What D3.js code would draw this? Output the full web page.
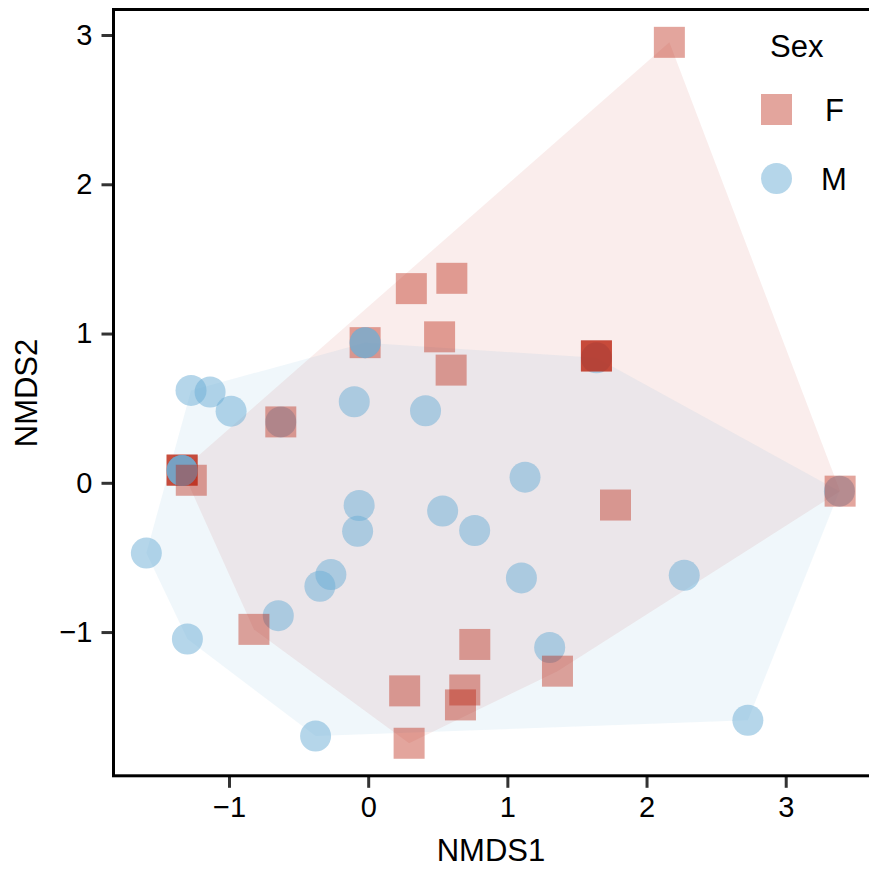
<!DOCTYPE html>
<html>
<head>
<meta charset="utf-8">
<script src="https://cdn.jsdelivr.net/npm/d3@7"></script>
<style>
  body { margin: 0; background: #fff; }
  text { font-family: "Liberation Sans", Arial, Helvetica, sans-serif; }
</style>
</head>
<body>
<svg width="869" height="869"></svg>
<script>
// one row per sample, in plotting order
const sex = [
    'F', 'F', 'F', 'F',
    'M', 'M', 'M', 'M', 'M',
    'M', 'M', 'M', 'M', 'M', 'M', 'M', 'M', 'M', 'M', 'M', 'M',
    'M', 'M', 'M', 'M', 'M', 'M', 'M', 'M', 'M', 'M', 'M',
    'F', 'F', 'F', 'F', 'F', 'F', 'F', 'F', 'F', 'F', 'F', 'F',
    'F', 'F', 'F', 'F', 'F', 'F', 'F'
];
const nmds1 = [
    -0.022, -1.337, -1.337, -1.337,
    -0.022, -0.022, -1.337, -1.337, -1.337,
    -1.273, -1.136, -0.985, -0.100, -1.594, -0.065, -0.076, -0.268, -0.347, -0.646, -1.299, -0.378,
    0.412, 1.127, 0.535, 0.765, 1.101, 2.271, 1.304, 2.728, 3.386, 1.640, -0.628,
    -1.271, 2.164, 0.310, 0.601, 0.513, 0.596, 1.640, 1.640, 1.640, -0.628, 1.777, 3.391,
    -0.821, 0.766, 1.360, 0.262, 0.694, 0.663, 0.294
];
const nmds2 = [
    0.939, 0.085, 0.085, 0.085,
    0.939, 0.939, 0.082, 0.082, 0.082,
    0.619, 0.608, 0.480, 0.543, -0.471, -0.152, -0.325, -0.615, -0.693, -0.890, -1.046, -1.697,
    0.483, 0.038, -0.189, -0.319, -0.637, -0.620, -1.103, -1.591, -0.056, 0.837, 0.408,
    0.017, 2.951, 1.301, 1.370, 0.978, 0.755, 0.850, 0.850, 0.850, 0.408, -0.149, -0.056,
    -0.982, -1.083, -1.262, -1.394, -1.388, -1.488, -1.745
];

const xTicks = [-1, 0, 1, 2, 3];
const yTicks = [-1, 0, 1, 2, 3];
const groups = ['F', 'M'];

const svg = d3.select('svg');

const cores = { F: 'rgb(185,30,10)', M: '#6baed6' };
const opPonto = { F: 0.4, M: 0.5 };
const opHull = { F: 0.08, M: 0.1 };
const lado = 31;

const dados = sex.map((s, i) => ({ sex: s, x: nmds1[i], y: nmds2[i] }));

const xEscala = d3.scaleLinear().domain([-1.83, 3.62]).range([113.5, 872]);
const yEscala = d3.scaleLinear().domain([-1.963, 3.171]).range([775.8, 9.5]);

// hulls
groups.forEach(g => {
    const pts = dados.filter(d => d.sex === g).map(d => [xEscala(d.x), yEscala(d.y)]);
    const hull = d3.polygonHull(pts);
    svg.append('path')
        .attr('d', 'M' + hull.join('L') + 'Z')
        .attr('fill', cores[g])
        .attr('fill-opacity', opHull[g]);
});

// points
const pontos = svg.append('g');
dados.forEach(d => {
    if (d.sex === 'F') {
        pontos.append('rect')
            .attr('x', xEscala(d.x) - lado / 2)
            .attr('y', yEscala(d.y) - lado / 2)
            .attr('width', lado)
            .attr('height', lado)
            .attr('fill', cores.F)
            .attr('fill-opacity', opPonto.F);
    } else {
        pontos.append('circle')
            .attr('cx', xEscala(d.x))
            .attr('cy', yEscala(d.y))
            .attr('r', lado / 2)
            .attr('fill', cores.M)
            .attr('fill-opacity', opPonto.M);
    }
});

// axes
const eixoX = svg.append('g')
    .attr('transform', 'translate(0,775.8)')
    .call(d3.axisBottom(xEscala).tickValues(xTicks).tickFormat(d3.format('d')).tickSize(12).tickPadding(9));
const eixoY = svg.append('g')
    .attr('transform', 'translate(113.5,0)')
    .call(d3.axisLeft(yEscala).tickValues(yTicks).tickFormat(d3.format('d')).tickSize(12).tickPadding(9));
[eixoX, eixoY].forEach(e => {
    e.select('.domain').remove();
    e.selectAll('line').attr('stroke', '#333').attr('stroke-width', 3);
    e.selectAll('text').attr('font-size', 29).attr('fill', '#000')
        .style('font-family', '"Liberation Sans", Arial, sans-serif');
});

// panel border
svg.append('rect')
    .attr('x', 113.5).attr('y', 9.5)
    .attr('width', 872 - 113.5).attr('height', 775.8 - 9.5)
    .attr('fill', 'none').attr('stroke', '#000').attr('stroke-width', 3);

// axis titles
svg.append('text')
    .attr('x', 491).attr('y', 861)
    .attr('text-anchor', 'middle').attr('font-size', 31)
    .text('NMDS1');
svg.append('text')
    .attr('transform', 'translate(37,393) rotate(-90)')
    .attr('text-anchor', 'middle').attr('font-size', 31)
    .text('NMDS2');

// legend
const leg = svg.append('g');
leg.append('text').attr('x', 770).attr('y', 57).attr('font-size', 31).text('Sex');
leg.append('rect')
    .attr('x', 776.5 - lado / 2).attr('y', 109.5 - lado / 2)
    .attr('width', lado).attr('height', lado)
    .attr('fill', cores.F).attr('fill-opacity', opPonto.F);
leg.append('circle')
    .attr('cx', 776.5).attr('cy', 178.5).attr('r', lado / 2)
    .attr('fill', cores.M).attr('fill-opacity', opPonto.M);
leg.append('text').attr('x', 825).attr('y', 110).attr('dy', '0.36em')
    .attr('font-size', 31).text('F');
leg.append('text').attr('x', 821).attr('y', 179).attr('dy', '0.36em')
    .attr('font-size', 31).text('M');
</script>
</body>
</html>
